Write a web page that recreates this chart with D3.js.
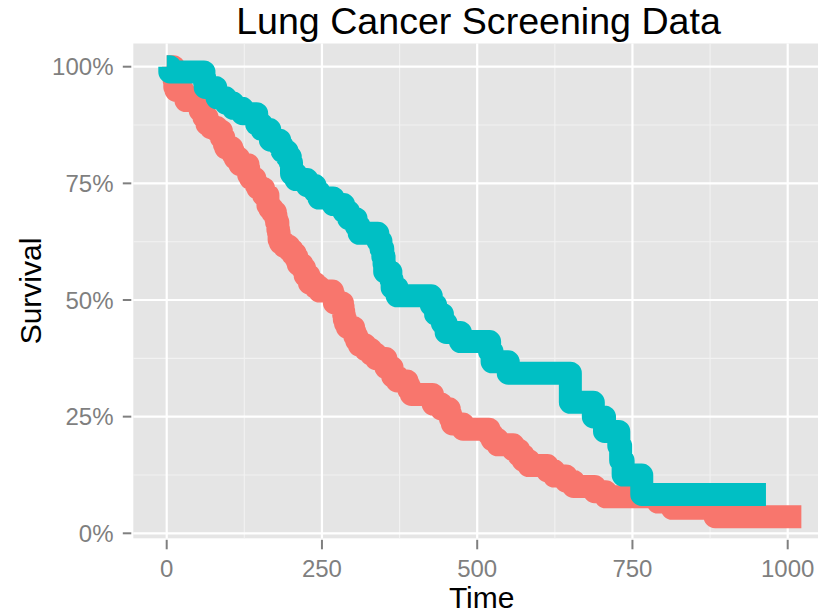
<!DOCTYPE html>
<html><head><meta charset="utf-8">
<script src="https://cdn.jsdelivr.net/npm/d3@7"></script>
<style>
html,body{margin:0;padding:0;background:#fff;}
svg{display:block;font-family:"Liberation Sans",Arial,Helvetica,sans-serif;}
</style></head>
<body>
<svg id="chart" width="818" height="613"></svg>
<script>
// Kaplan-Meier estimates, lung data, by sex
const maleTimes = [0,11,12,13,15,26,30,31,53,54,59,60,65,71,81,88,92,93,95,105,107,110,116,118,131,132,135,142,144,147,156,163,166,170,175,176,177,179,180,181,183,189,197,202,207,210,212,218,222,223,229,230,239,246,267,269,270,283,284,285,286,288,291,301,303,306,310,320,329,337,353,363,364,371,387,390,394,428,429,442,455,457,460,477,519,524,533,558,567,574,583,613,624,643,655,689,707,791,814,883,1022];
const maleSurv = [1,0.9783,0.9710,0.9565,0.9493,0.9420,0.9348,0.9275,0.9130,0.9058,0.8986,0.8913,0.8768,0.8696,0.8623,0.8478,0.8406,0.8333,0.8261,0.8188,0.8116,0.8043,0.7971,0.7899,0.7826,0.7681,0.7609,0.7536,0.7464,0.7391,0.7246,0.7029,0.6957,0.6884,0.6811,0.6738,0.6664,0.6518,0.6445,0.6298,0.6225,0.6150,0.6073,0.5995,0.5917,0.5839,0.5762,0.5684,0.5605,0.5525,0.5442,0.5360,0.5276,0.5192,0.5107,0.5022,0.4937,0.4850,0.4764,0.4676,0.4587,0.4499,0.4411,0.4319,0.4225,0.4129,0.4033,0.3937,0.3841,0.3745,0.3553,0.3457,0.3361,0.3265,0.3169,0.3073,0.2977,0.2874,0.2771,0.2669,0.2562,0.2455,0.2344,0.2232,0.2120,0.2009,0.1897,0.1786,0.1674,0.1562,0.1451,0.1339,0.1228,0.1116,0.1004,0.0893,0.0781,0.0670,0.0536,0.0357,0.0357];
const femaleTimes = [0,5,60,61,62,79,81,95,107,122,145,153,166,167,182,186,194,199,201,208,226,239,245,268,285,293,305,310,340,345,348,350,351,361,363,371,426,433,444,450,473,520,524,550,650,687,705,728,731,735,765,965];
const femaleSurv = [1,0.9889,0.9778,0.9667,0.9556,0.9444,0.9333,0.9221,0.9107,0.8993,0.8766,0.8652,0.8538,0.8424,0.8305,0.8187,0.8066,0.7946,0.7705,0.7581,0.7452,0.7322,0.7186,0.7045,0.6895,0.6742,0.6585,0.6428,0.6264,0.6099,0.5934,0.5769,0.5604,0.5434,0.5265,0.5089,0.4893,0.4697,0.4501,0.4305,0.4109,0.3893,0.3676,0.3431,0.2807,0.2495,0.2183,0.1871,0.1559,0.1247,0.0832,0.0832];
const xTicks = [0,250,500,750,1000];
const xMinor = [125,375,625,875];
const yTicks = [0,0.25,0.5,0.75,1];
const yMinor = [0.125,0.375,0.625,0.875];
const groups = ["1","2"];
const colors = ["#F8766D","#00BFC4"];

const svg = d3.select("#chart");
const panel = {left:133.3, right:830, top:43.5, bottom:538.3};
const x = d3.scaleLinear().domain([0,1000]).range([166.7,787.7]);
const y = d3.scaleLinear().domain([0,1]).range([533.3,66.7]);

svg.append("rect").attr("x",panel.left).attr("y",panel.top)
  .attr("width",panel.right-panel.left).attr("height",panel.bottom-panel.top).attr("fill","#E5E5E5");

const defs = svg.append("defs");
defs.append("clipPath").attr("id","clip").append("rect")
  .attr("x",panel.left).attr("y",panel.top).attr("width",panel.right-panel.left).attr("height",panel.bottom-panel.top);

const grid = svg.append("g");
grid.selectAll(".xmin").data(xMinor).join("line").attr("class","xmin")
  .attr("x1",d=>x(d)).attr("x2",d=>x(d)).attr("y1",panel.top).attr("y2",panel.bottom)
  .attr("stroke","#F2F2F2").attr("stroke-width",1.1);
grid.selectAll(".ymin").data(yMinor).join("line").attr("class","ymin")
  .attr("y1",d=>y(d)).attr("y2",d=>y(d)).attr("x1",panel.left).attr("x2",panel.right)
  .attr("stroke","#F2F2F2").attr("stroke-width",1.1);
grid.selectAll(".xmaj").data(xTicks).join("line").attr("class","xmaj")
  .attr("x1",d=>x(d)).attr("x2",d=>x(d)).attr("y1",panel.top).attr("y2",panel.bottom)
  .attr("stroke","#FFFFFF").attr("stroke-width",2.2);
grid.selectAll(".ymaj").data(yTicks).join("line").attr("class","ymaj")
  .attr("y1",d=>y(d)).attr("y2",d=>y(d)).attr("x1",panel.left).attr("x2",panel.right)
  .attr("stroke","#FFFFFF").attr("stroke-width",2.2);

const series = [
  {key:groups[0], pts: maleTimes.map((t,i)=>[t,maleSurv[i]]), color:colors[0]},
  {key:groups[1], pts: femaleTimes.map((t,i)=>[t,femaleSurv[i]]), color:colors[1]}
];
const line = d3.line().x(d=>x(d[0])).y(d=>y(d[1])).curve(d3.curveStepAfter);
svg.append("g").attr("clip-path","url(#clip)").selectAll("path").data(series).join("path")
  .attr("d",d=>line(d.pts)).attr("fill","none").attr("stroke",d=>d.color)
  .attr("stroke-width",23).attr("stroke-linejoin","round").attr("stroke-linecap","butt");

// axes
const axCol = "#7F7F7F";
const xa = svg.append("g");
xa.selectAll("line").data(xTicks).join("line")
  .attr("x1",d=>x(d)).attr("x2",d=>x(d)).attr("y1",panel.bottom+1.5).attr("y2",panel.bottom+11)
  .attr("stroke",axCol).attr("stroke-width",2);
xa.selectAll("text").data(xTicks).join("text")
  .attr("x",d=>x(d)).attr("y",576.7).attr("text-anchor","middle")
  .attr("font-size",24).attr("fill",axCol).text(d=>d3.format("d")(d));
const ya = svg.append("g");
ya.selectAll("line").data(yTicks).join("line")
  .attr("x1",panel.left-10.5).attr("x2",panel.left-2).attr("y1",d=>y(d)).attr("y2",d=>y(d))
  .attr("stroke",axCol).attr("stroke-width",2);
ya.selectAll("text").data(yTicks).join("text")
  .attr("x",113.5).attr("y",d=>y(d)).attr("dy","0.36em").attr("text-anchor","end")
  .attr("font-size",24).attr("fill",axCol).text(d=>d3.format(".0%")(d));

svg.append("text").attr("x",481.7).attr("y",608).attr("text-anchor","middle")
  .attr("font-size",30).attr("fill","#000").text("Time");
svg.append("text").attr("transform","translate(40.5,291) rotate(-90)").attr("text-anchor","middle")
  .attr("font-size",30).attr("fill","#000").text("Survival");
svg.append("text").attr("x",478.5).attr("y",34.3).attr("text-anchor","middle")
  .attr("font-size",37.6).attr("fill","#000").text("Lung Cancer Screening Data");
</script>
</body></html>
